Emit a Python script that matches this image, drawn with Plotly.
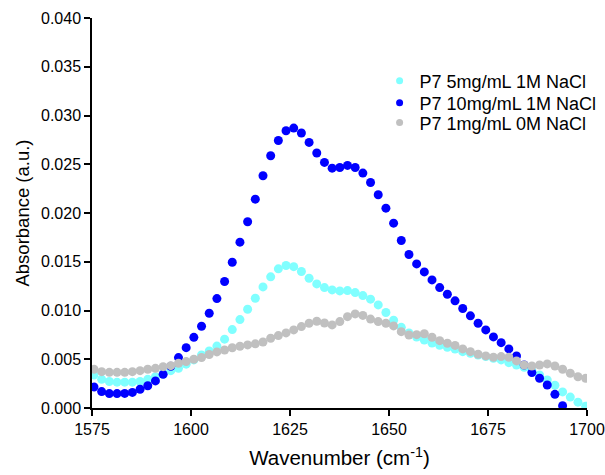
import plotly.graph_objects as go

wavenumber = [
    1575.50, 1577.44, 1579.38, 1581.32, 1583.26, 1585.20, 1587.14, 1589.08, 1591.02, 1592.96,
    1594.90, 1596.84, 1598.78, 1600.72, 1602.66, 1604.60, 1606.54, 1608.48, 1610.42, 1612.36,
    1614.30, 1616.24, 1618.18, 1620.12, 1622.06, 1624.00, 1625.94, 1627.88, 1629.82, 1631.76,
    1633.70, 1635.64, 1637.58, 1639.52, 1641.46, 1643.40, 1645.34, 1647.28, 1649.22, 1651.16,
    1653.10, 1655.04, 1656.98, 1658.92, 1660.86, 1662.80, 1664.74, 1666.68, 1668.62, 1670.56,
    1672.50, 1674.44, 1676.38, 1678.32, 1680.26, 1682.20, 1684.14, 1686.08, 1688.02, 1689.96,
    1691.90, 1693.84, 1695.78, 1697.72, 1699.66,
]

p7_5mg_1M = [
    0.00339, 0.00294, 0.00272, 0.00265, 0.00265, 0.00265, 0.00272, 0.00294, 0.00321, 0.00349,
    0.00383, 0.00407, 0.00450, 0.00493, 0.00544, 0.00585, 0.00635, 0.00706, 0.00804, 0.00907,
    0.01013, 0.01126, 0.01242, 0.01345, 0.01427, 0.01461, 0.01450, 0.01400, 0.01331, 0.01273,
    0.01235, 0.01211, 0.01201, 0.01204, 0.01184, 0.01153, 0.01116, 0.01057, 0.00979, 0.00900,
    0.00827, 0.00770, 0.00728, 0.00698, 0.00667, 0.00643, 0.00623, 0.00604, 0.00578, 0.00561,
    0.00544, 0.00527, 0.00510, 0.00493, 0.00465, 0.00441, 0.00417, 0.00383, 0.00339, 0.00287,
    0.00233, 0.00165, 0.00112, 0.00060, 0.00019,
]

p7_10mg_1M = [
    0.00215, 0.00168, 0.00148, 0.00148, 0.00150, 0.00160, 0.00192, 0.00228, 0.00278, 0.00345,
    0.00427, 0.00517, 0.00619, 0.00725, 0.00838, 0.00972, 0.01122, 0.01297, 0.01495, 0.01701,
    0.01910, 0.02142, 0.02382, 0.02587, 0.02744, 0.02844, 0.02871, 0.02820, 0.02724, 0.02615,
    0.02519, 0.02460, 0.02467, 0.02488, 0.02467, 0.02409, 0.02313, 0.02187, 0.02050, 0.01896,
    0.01718, 0.01574, 0.01478, 0.01396, 0.01314, 0.01235, 0.01167, 0.01099, 0.01020, 0.00945,
    0.00869, 0.00801, 0.00729, 0.00670, 0.00606, 0.00534, 0.00441, 0.00363, 0.00305, 0.00236,
    0.00140, 0.00024, None, None, None,
]

p7_1mg_0M = [
    0.00397, 0.00373, 0.00366, 0.00366, 0.00366, 0.00373, 0.00383, 0.00397, 0.00407, 0.00424,
    0.00434, 0.00459, 0.00476, 0.00500, 0.00518, 0.00549, 0.00575, 0.00595, 0.00618, 0.00633,
    0.00647, 0.00658, 0.00677, 0.00715, 0.00743, 0.00770, 0.00801, 0.00835, 0.00869, 0.00890,
    0.00872, 0.00852, 0.00886, 0.00937, 0.00965, 0.00950, 0.00912, 0.00886, 0.00869, 0.00842,
    0.00783, 0.00749, 0.00752, 0.00762, 0.00726, 0.00691, 0.00664, 0.00642, 0.00606, 0.00578,
    0.00551, 0.00534, 0.00520, 0.00527, 0.00520, 0.00483, 0.00441, 0.00431, 0.00441, 0.00452,
    0.00431, 0.00397, 0.00356, 0.00321, 0.00305,
]

series_names = ["P7 5mg/mL 1M NaCl", "P7 10mg/mL 1M NaCl", "P7 1mg/mL 0M NaCl"]
series_values = [p7_5mg_1M, p7_10mg_1M, p7_1mg_0M]
series_colors = ["#80FFFF", "#0000FF", "#C0C0C0"]
legend_ids = ["legend", "legend2", "legend3"]
legend_rows_y = [0.8385, 0.782, 0.731]

x_ticks = [1575, 1600, 1625, 1650, 1675, 1700]
y_ticks = [0.000, 0.005, 0.010, 0.015, 0.020, 0.025, 0.030, 0.035, 0.040]

FONT = "Arial, Liberation Sans, sans-serif"

fig = go.Figure()
for name, vals, col in zip(series_names, series_values, series_colors):
    fig.add_trace(go.Scatter(
        x=wavenumber, y=vals, name=name, mode="markers",
        marker=dict(color=col, size=9, line=dict(width=0)),
        cliponaxis=True, showlegend=False, legendgroup=name,
    ))
# legend entries (smaller symbols, as in the reference), one legend per row
for name, col, lid in zip(series_names, series_colors, legend_ids):
    fig.add_trace(go.Scatter(
        x=[None], y=[None], name=name, mode="markers",
        marker=dict(color=col, size=7, line=dict(width=0)),
        showlegend=True, legendgroup=name, legend=lid,
    ))

legend_style = dict(
    x=0.581, xanchor="left", yanchor="middle",
    bgcolor="rgba(0,0,0,0)", font=dict(size=18, family=FONT),
    itemsizing="trace",
)

fig.update_layout(
    width=605, height=475, autosize=False,
    margin=dict(l=92, r=18, t=18, b=67, autoexpand=False),
    paper_bgcolor="white", plot_bgcolor="white",
    font=dict(family=FONT, size=16, color="black"),
    showlegend=True,
    legend=dict(y=legend_rows_y[0], **legend_style),
    legend2=dict(y=legend_rows_y[1], **legend_style),
    legend3=dict(y=legend_rows_y[2], **legend_style),
)
fig.update_xaxes(
    range=[1575, 1700], tickvals=x_ticks, ticktext=[str(v) for v in x_ticks],
    showline=True, linecolor="black", linewidth=1.5,
    ticks="outside", ticklen=6, tickwidth=1.5, tickcolor="black",
    showgrid=False, zeroline=False, mirror=False, automargin=False,
    tickfont=dict(size=16, family=FONT),
    title=dict(text="Wavenumber (cm<sup>-1</sup>)", font=dict(size=20.5, family=FONT), standoff=14),
)
fig.update_yaxes(
    range=[0, 0.040], tickvals=y_ticks, ticktext=["%.3f" % v for v in y_ticks],
    showline=True, linecolor="black", linewidth=1.5,
    ticks="outside", ticklen=6, tickwidth=1.5, tickcolor="black",
    showgrid=False, zeroline=False, mirror=False, automargin=False,
    tickfont=dict(size=16, family=FONT),
    title=dict(text="Absorbance (a.u.)", font=dict(size=18.5, family=FONT), standoff=7),
)

fig.write_html("out.html", config={"responsive": False})
